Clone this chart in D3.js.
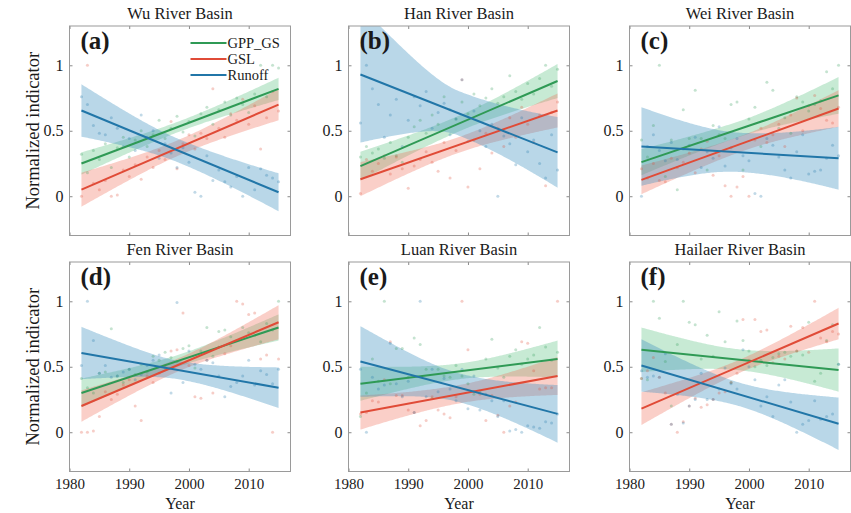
<!DOCTYPE html>
<html><head><meta charset="utf-8">
<script src="https://cdn.jsdelivr.net/npm/d3@7"></script>
<style>
body{margin:0;background:#fff}
svg{display:block}
svg text{font-family:"Liberation Serif","Times New Roman","DejaVu Serif",serif !important;fill:#1a1a1a}
</style>
</head><body><svg id="c" width="851" height="513"></svg>
<script>
// ---------------- DATA ----------------
const basins = ["Wu River Basin","Han River Basin","Wei River Basin","Fen River Basin","Luan River Basin","Hailaer River Basin"];
const panelLabels = ["(a)","(b)","(c)","(d)","(e)","(f)"];
const seriesNames = ["GPP_GS","GSL","Runoff"];
const years = [1982,1983,1984,1985,1986,1987,1988,1989,1990,1991,1992,1993,1994,1995,1996,1997,1998,1999,2000,2001,2002,2003,2004,2005,2006,2007,2008,2009,2010,2011,2012,2013,2014,2015];
const xTicks = [1980,1990,2000,2010];
const yTicks = [0,0.5,1];

// scatter values (per basin, one per year)
const gppPoints = [
 [0.32,0.18,0.35,0.28,0.40,0.22,0.37,0.45,0.30,0.43,0.50,0.38,0.47,0.58,0.44,0.52,0.61,0.49,0.57,0.46,0.63,0.68,0.55,0.66,0.72,0.62,0.75,0.70,0.64,0.78,1.00,0.76,1.00,0.98],
 [0.30,0.38,0.33,0.36,0.29,0.41,0.31,0.26,0.45,0.53,0.58,0.48,0.62,0.55,0.76,0.66,0.59,0.72,0.63,0.78,0.69,0.75,0.82,0.71,0.76,0.92,0.80,0.74,0.86,0.78,0.90,1.00,0.84,0.97],
 [0.43,0.30,0.54,1.00,0.15,0.43,0.05,0.66,0.44,0.81,0.44,0.20,0.54,0.47,0.44,0.70,0.72,0.20,0.59,0.68,0.38,0.87,0.81,0.52,0.60,0.48,0.76,0.72,0.65,0.70,0.73,0.95,0.82,1.00],
 [0.41,0.34,0.30,0.45,0.46,0.79,0.43,0.38,0.48,0.44,0.52,0.46,0.58,0.55,0.61,0.57,0.54,0.64,0.66,0.49,0.62,0.80,0.58,0.77,0.78,0.73,0.70,0.80,0.76,0.74,0.69,0.83,0.78,1.00],
 [0.12,0.30,0.56,0.39,1.00,0.37,0.64,0.64,0.42,0.72,0.67,0.48,0.26,0.48,0.43,0.42,0.51,0.43,0.37,0.29,0.31,0.56,0.71,0.49,0.42,0.58,0.63,0.52,0.56,0.59,0.80,0.65,0.55,0.61],
 [0.41,0.40,1.00,0.87,0.54,0.20,0.67,1.00,0.84,0.82,0.56,0.74,0.58,0.92,0.69,0.38,0.85,0.70,0.62,0.50,0.55,0.51,0.57,0.60,0.61,0.58,0.62,0.59,0.84,0.39,0.45,0.70,0.82,0.52]
];
const gslPoints = [
 [0.00,1.00,0.10,0.05,0.12,0.00,0.01,0.20,0.15,0.24,0.13,0.30,0.22,0.35,0.28,0.57,0.21,0.40,0.47,0.36,0.48,0.44,0.82,0.52,0.45,0.63,0.58,0.74,0.55,0.69,0.36,0.60,0.80,0.65],
 [0.02,0.28,0.19,0.25,0.31,0.17,0.30,0.21,0.06,0.23,0.28,0.34,0.26,0.19,0.41,0.14,0.35,0.89,0.07,0.43,0.21,0.48,0.33,0.52,0.38,0.60,0.45,0.68,0.55,0.41,0.62,0.08,0.64,0.72],
 [0.21,0.14,0.25,0.12,0.11,0.29,0.22,0.26,0.33,0.18,0.36,0.42,0.16,0.31,0.08,0.00,0.07,0.15,0.00,0.43,0.52,0.41,0.47,0.55,0.38,0.62,0.75,0.50,0.69,0.77,0.67,0.58,0.56,0.68],
 [0.00,0.00,0.01,0.12,0.31,0.25,0.29,0.36,0.40,0.20,0.09,0.43,0.38,0.45,0.51,0.62,0.63,0.91,0.51,0.27,0.26,0.55,0.30,0.65,0.60,0.66,1.00,0.98,0.90,0.91,0.56,0.59,0.00,0.56],
 [0.14,0.15,0.24,0.23,0.40,0.69,0.28,0.28,0.17,0.15,0.05,0.09,0.27,0.17,0.14,0.11,0.27,1.00,0.63,0.31,0.29,0.09,0.28,0.13,0.00,0.20,0.23,0.69,0.68,0.47,0.33,0.34,0.34,1.00],
 [0.41,0.47,0.57,0.42,0.30,0.06,0.00,0.08,0.20,0.26,0.19,0.21,0.25,0.30,0.31,0.38,0.45,0.86,0.55,0.86,0.77,0.78,0.53,0.58,0.56,0.81,0.62,0.80,0.61,1.00,0.72,0.69,0.77,0.75]
];
const runoffPoints = [
 [0.76,0.70,0.54,0.48,0.47,0.60,0.52,0.38,0.44,0.35,0.62,0.45,0.50,0.29,0.40,0.33,0.22,0.37,0.26,0.03,0.00,0.31,0.12,0.20,0.11,0.07,0.15,0.00,0.22,0.05,0.21,0.16,0.14,0.11],
 [0.56,1.00,0.82,0.70,0.45,0.62,0.74,0.38,0.58,0.76,0.69,0.80,0.52,0.64,0.71,0.47,0.59,0.89,0.42,0.65,0.50,0.38,0.55,0.00,0.46,0.40,0.24,0.60,0.34,0.43,0.25,0.14,0.47,0.20],
 [0.00,0.38,0.47,0.35,0.27,0.41,0.28,0.36,0.39,0.45,0.22,0.34,0.29,0.53,0.23,0.37,0.44,0.31,0.27,0.02,0.00,0.44,0.39,0.30,0.20,0.14,0.34,0.47,0.17,0.19,0.20,0.29,0.39,0.31],
 [0.51,1.00,0.70,0.45,0.51,0.42,0.43,0.46,0.48,0.40,0.44,0.51,0.55,0.59,0.49,0.30,0.99,0.38,0.62,0.52,0.48,0.55,0.53,0.43,0.27,0.35,0.38,0.43,0.55,0.36,0.47,0.44,0.37,0.48],
 [0.48,0.00,0.42,0.33,0.36,0.68,0.37,0.27,0.39,0.15,1.00,0.27,0.48,0.31,0.41,0.33,0.24,0.48,0.18,0.43,0.17,0.29,0.24,0.12,0.24,0.01,0.02,0.00,0.05,0.04,0.03,0.08,0.07,0.14],
 [0.47,0.42,0.43,0.42,0.60,0.06,0.29,0.07,0.20,0.25,0.45,0.25,0.25,0.33,0.49,0.37,0.33,0.63,0.50,0.40,0.20,0.27,0.12,0.36,0.40,0.23,0.00,0.06,0.09,0.24,0.10,0.12,0.14,0.52]
];

// fitted trend values at 1982 and 2015
const gppFitStart = [0.25,0.23,0.26,0.30,0.37,0.63];
const gppFitEnd   = [0.82,0.88,0.77,0.80,0.56,0.475];
const gslFitStart = [0.05,0.13,0.125,0.20,0.15,0.18];
const gslFitEnd   = [0.70,0.655,0.67,0.84,0.43,0.83];
const runoffFitStart = [0.655,0.93,0.38,0.605,0.54,0.51];
const runoffFitEnd   = [0.03,0.335,0.29,0.34,0.14,0.065];
// confidence band half-widths [at 1982, at centre, at 2015]
const gppBand = [[0.085,0.04,0.085],[0.11,0.06,0.13],[0.10,0.06,0.14],[0.11,0.045,0.10],[0.13,0.06,0.14],[0.17,0.08,0.165]];
const gslBand = [[0.13,0.06,0.12],[0.13,0.06,0.13],[0.11,0.06,0.14],[0.12,0.05,0.13],[0.13,0.07,0.145],[0.125,0.05,0.12]];
const runoffBand = [[0.20,0.09,0.145],[0.52,0.17,0.27],[0.30,0.15,0.24],[0.20,0.07,0.155],[0.27,0.11,0.22],[0.20,0.09,0.20]];

// ---------------- STYLE / LAYOUT ----------------
const lineColors = ["#2f9a55","#e04b37","#2176a8"];
const bandColors = ["#46b870","#ee6a55","#3d8fc0"];
const bandOpacity = [0.3,0.32,0.36];
const colLeft = [69.5,348.5,629.5], rowTop = [26,262];
const W = 221, H = 209.5;

const svg = d3.select("#c");
svg.append("rect").attr("width",851).attr("height",513).attr("fill","#fff");

const x = d3.scaleLinear().domain([1980,2017]).range([0,W]);
const y = d3.scaleLinear().domain([-0.3,1.3]).range([H,0]);

const allPoints = [gppPoints,gslPoints,runoffPoints];
const fitS = [gppFitStart,gslFitStart,runoffFitStart];
const fitE = [gppFitEnd,gslFitEnd,runoffFitEnd];
const bands = [gppBand,gslBand,runoffBand];

const x0 = years[0], x1 = years[years.length-1], xc = (x0+x1)/2;
const fine = d3.range(x0, x1+0.001, 0.25);

basins.forEach((name,p)=>{
  const col = p%3, row = Math.floor(p/3);
  const g = svg.append("g").attr("transform",`translate(${colLeft[col]},${rowTop[row]})`);
  const clipId = "clip"+p;
  g.append("clipPath").attr("id",clipId).append("rect").attr("width",W).attr("height",H);
  const inner = g.append("g").attr("clip-path",`url(#${clipId})`);

  // bands
  [0,1,2].forEach(s=>{
    const a = fitS[s][p], b = fitE[s][p], hb = bands[s][p];
    const fit = t => a + (b-a)*(t-x0)/(x1-x0);
    const half = t => {
      const he = t < xc ? hb[0] : hb[2];
      const u = Math.abs(t-xc)/(xc-x0);
      return Math.sqrt(hb[1]*hb[1] + (he*he-hb[1]*hb[1])*u*u);
    };
    inner.append("path")
      .datum(fine)
      .attr("fill",bandColors[s]).attr("fill-opacity",bandOpacity[s])
      .attr("d",d3.area().x(t=>x(t)).y0(t=>y(fit(t)-half(t))).y1(t=>y(fit(t)+half(t))));
  });
  // points
  [0,1,2].forEach(s=>{
    inner.selectAll(null).data(allPoints[s][p]).enter().append("circle")
      .attr("cx",(d,i)=>x(years[i])).attr("cy",d=>y(d)).attr("r",1.5)
      .attr("fill",lineColors[s]).attr("fill-opacity",0.28);
  });
  // lines
  [0,1,2].forEach(s=>{
    inner.append("path")
      .datum([[x0,fitS[s][p]],[x1,fitE[s][p]]])
      .attr("fill","none").attr("stroke",lineColors[s]).attr("stroke-width",2)
      .attr("d",d3.line().x(d=>x(d[0])).y(d=>y(d[1])));
  });

  // axes (inward ticks on all four sides)
  const fmt = d=>String(d);
  const ax = [
    g.append("g").call(d3.axisLeft(y).tickValues(yTicks).tickSize(-3).tickPadding(6).tickFormat(fmt)),
    g.append("g").attr("transform",`translate(${W},0)`).call(d3.axisRight(y).tickValues(yTicks).tickSize(-3).tickFormat("")),
    g.append("g").attr("transform",`translate(0,${H})`).call(d3.axisBottom(x).tickValues(xTicks).tickSize(-3).tickPadding(7).tickFormat(row===1?fmt:()=>"")),
    g.append("g").call(d3.axisTop(x).tickValues(xTicks).tickSize(-3).tickFormat(""))
  ];
  ax.forEach((a,i)=>{
    a.attr("font-family",null);
    a.select(".domain").remove();
    a.selectAll("line").attr("stroke","#8a8a8a");
    a.selectAll("text").attr("font-size",i===2?15:16).attr("fill","#1a1a1a");
  });
  g.append("rect").attr("width",W).attr("height",H).attr("fill","none").attr("stroke","#9a9a9a").attr("stroke-width",1);

  // title & panel label
  g.append("text").attr("x",W/2).attr("y",-7).attr("text-anchor","middle").attr("font-size",16.5).text(name);
  g.append("text").attr("x",11).attr("y",23).attr("font-size",25).attr("font-weight","bold").text(panelLabels[p]);

  if (col===0) {
    g.append("text").attr("transform",`translate(-31,${H/2}) rotate(-90)`).attr("text-anchor","middle")
      .attr("font-size",18.5).text("Normalized indicator");
  }
  if (row===1) {
    g.append("text").attr("x",W/2).attr("y",H+37.5).attr("text-anchor","middle").attr("font-size",16).text("Year");
  }
  if (p===0) {
    const lg = g.append("g");
    seriesNames.forEach((s,i)=>{
      const yy = 17 + i*16;
      lg.append("line").attr("x1",121).attr("x2",157).attr("y1",yy).attr("y2",yy)
        .attr("stroke",lineColors[i]).attr("stroke-width",2);
      lg.append("text").attr("x",158).attr("y",yy+5).attr("font-size",14.5).text(s);
    });
  }
});
</script>
</body></html>
